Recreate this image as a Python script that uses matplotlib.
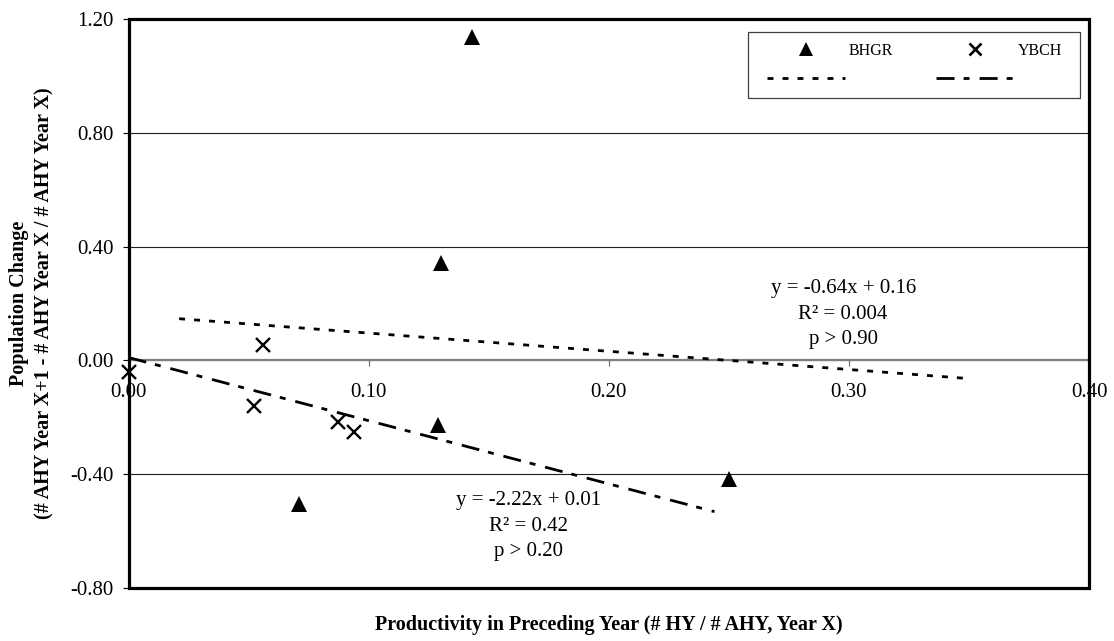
import numpy as np
import matplotlib
matplotlib.use("Agg")
import matplotlib.pyplot as plt
from matplotlib.lines import Line2D
from matplotlib.patches import Rectangle

plt.rcParams['font.family'] = ['Liberation Serif', 'DejaVu Serif']
plt.rcParams['axes.unicode_minus'] = False
plt.rcParams['lines.scale_dashes'] = False

# Black-headed Grosbeak: productivity vs. population change
bhgr_x = [0.143, 0.130, 0.129, 0.071, 0.250]
bhgr_y = [1.135, 0.344, -0.226, -0.503, -0.418]
# Yellow-breasted Chat
ybch_x = [0.000, 0.052, 0.056, 0.087, 0.094]
ybch_y = [-0.041, -0.159, 0.055, -0.217, -0.252]

# linear trendlines: slope, intercept, R^2, p
bhgr_fit = (-0.64, 0.16)
ybch_fit = (-2.22, 0.01)
bhgr_r2, bhgr_p = "0.004", "0.90"
ybch_r2, ybch_p = "0.42", "0.20"
# trendline forecast (backward, forward) along x
bhgr_forecast = (0.05, 0.10)
ybch_forecast = (0.0, 0.15)

x_ticks = [0.0, 0.1, 0.2, 0.3, 0.4]
y_ticks = [-0.8, -0.4, 0.0, 0.4, 0.8, 1.2]

series_names = ["BHGR", "YBCH"]

fig = plt.figure(figsize=(11.14, 6.41), dpi=100)
ax = fig.add_axes([0.11553, 0.08268, 0.86203, 0.88768])
ax.set_xlim(x_ticks[0], x_ticks[-1])
ax.set_ylim(y_ticks[0], y_ticks[-1])

# frame
for side in ("left", "right", "top"):
    ax.spines[side].set_visible(False)
ax.spines["bottom"].set_position(("data", 0))
ax.spines["bottom"].set_color("#808080")
ax.spines["bottom"].set_linewidth(1.6)
ax.add_patch(Rectangle((0, 0), 1, 1, transform=ax.transAxes, fill=False,
                       edgecolor="black", linewidth=2.3, clip_on=False, zorder=10))

ax.set_yticks(y_ticks)
ax.set_yticklabels([f"{v:.2f}" for v in y_ticks])
ax.set_xticks(x_ticks)
ax.set_xticklabels([f"{v:.2f}" for v in x_ticks])
ax.tick_params(axis="y", direction="out", length=4.5, width=0.8, pad=6.5,
               labelsize=15, color="black")
ax.tick_params(axis="x", direction="out", length=4.5, width=0.8, pad=12,
               labelsize=15, color="#606060")
ax.set_axisbelow(True)
ax.grid(axis="y", color="#202020", linewidth=0.8)
ax.grid(axis="x", visible=False)

# trendlines
def trend(xs, fit, fc):
    lo = max(0.0, min(xs) - fc[0])
    hi = max(xs) + fc[1]
    tx = np.array([lo, hi])
    return tx, fit[0] * tx + fit[1]

tx, ty = trend(bhgr_x, bhgr_fit, bhgr_forecast)
bhgr_line, = ax.plot(tx, ty, color="black", linewidth=2.0,
                     dashes=(4.3, 6.5), zorder=3)
tx, ty = trend(ybch_x, ybch_fit, ybch_forecast)
ybch_line, = ax.plot(tx, ty, color="black", linewidth=2.0,
                     dashes=(13, 6.5, 4.3, 7.2), zorder=3)

# points
bhgr_pts, = ax.plot(bhgr_x, bhgr_y, linestyle="none", marker="^", ms=11,
                    color="black", mew=0, zorder=11, clip_on=False)
ybch_pts, = ax.plot(ybch_x, ybch_y, linestyle="none", marker="x", ms=9.5,
                    color="black", mew=1.7, zorder=11, clip_on=False)

# trendline annotations
ax.text(0.2976, 0.163,
        f"y = {bhgr_fit[0]:.2f}x + {bhgr_fit[1]:.2f}\nR\u00b2 = {bhgr_r2}\np > {bhgr_p}",
        ha="center", va="center", fontsize=15, linespacing=1.45, zorder=5)
ax.text(0.1664, -0.583,
        f"y = {ybch_fit[0]:.2f}x + {ybch_fit[1]:.2f}\nR\u00b2 = {ybch_r2}\np > {ybch_p}",
        ha="center", va="center", fontsize=15, linespacing=1.45, zorder=5)

# legend box
ax.add_patch(Rectangle((0.645, 0.861), 0.346, 0.117, transform=ax.transAxes,
                       facecolor="white", edgecolor="#404040", linewidth=0.9,
                       zorder=6))
handles = [
    Line2D([], [], linestyle="none", marker="^", ms=10, color="black", mew=0),
    Line2D([], [], color="black", linewidth=2.0, dashes=(4.3, 6.5)),
    Line2D([], [], linestyle="none", marker="x", ms=8.5, color="black", mew=1.9),
    Line2D([], [], color="black", linewidth=2.0, dashes=(13, 6.5, 4.3, 7.2)),
]
labels = [series_names[0], " ", series_names[1], " "]
leg = ax.legend(handles, labels, ncol=2, loc="center",
                bbox_to_anchor=(0.8182, 0.9193), frameon=False,
                fontsize=11.5, handlelength=4.88, handletextpad=0.22,
                columnspacing=2.7, labelspacing=0.8, borderpad=0,
                borderaxespad=0, numpoints=1)
leg.set_zorder(7)

fig.text(609 / 1114, 1 - 625 / 641,
         "Productivity in Preceding Year (# HY / # AHY, Year X)",
         ha="center", va="center", fontsize=14.5, fontweight="bold")
fig.text(32 / 1114, 1 - 303.5 / 641,
         "Population Change\n(# AHY Year X+1 - # AHY Year X / # AHY Year X)",
         ha="center", va="center", rotation=90, fontsize=14.5,
         fontweight="bold", linespacing=1.35, multialignment="center")

fig.savefig("out.png", dpi=100)
